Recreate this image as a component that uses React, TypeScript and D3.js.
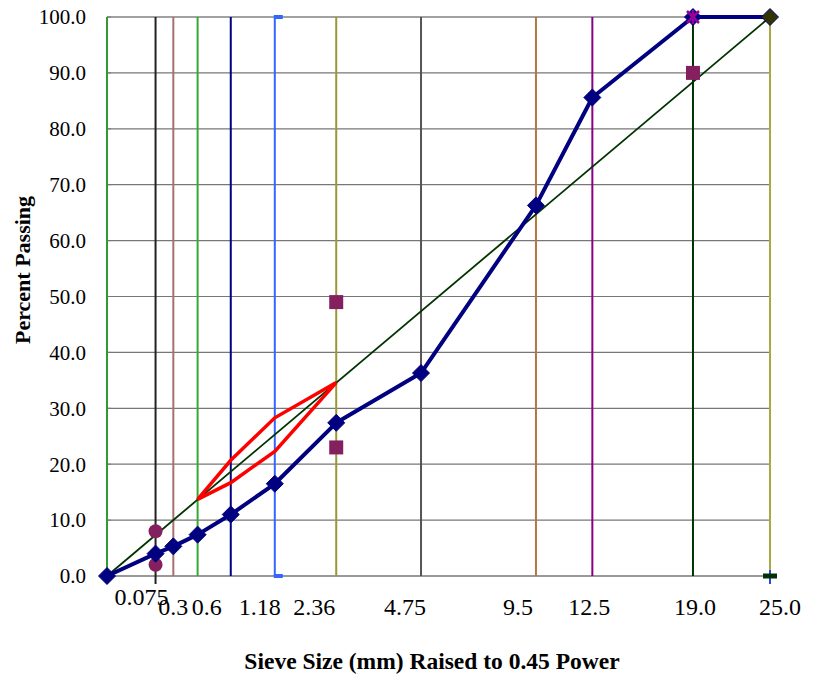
import React from "react";
import * as d3 from "d3";

const sieves = [0, 0.075, 0.15, 0.3, 0.6, 1.18, 2.36, 4.75, 9.5, 12.5, 19, 25];
const passing = [0, 4.0, 5.3, 7.4, 11.0, 16.5, 27.4, 36.3, 66.3, 85.6, 100, 100];
const sieveLineColors = ["#339933", "#222222", "#A87070", "#33AA33", "#000080", "#3366FF", "#999933", "#555555", "#B07840", "#880088", "#003300", "#AAAA44"];

const maxDensitySieves = [0, 25];
const maxDensityPassing = [0, 100];

const rzSieves = [0.3, 0.6, 1.18, 2.36];
const rzUpper = [13.7, 20.7, 28.3, 34.6];
const rzLower = [13.7, 16.7, 22.3, 34.6];

const cpSquareSieves = [2.36, 2.36, 19];
const cpSquareValues = [49, 23, 90];
const cpCircleSieves = [0.075, 0.075];
const cpCircleValues = [8, 2];

const yTicks = [0, 10, 20, 30, 40, 50, 60, 70, 80, 90, 100];
const xTickSieves = [0.075, 0.15, 0.3, 0.6, 1.18, 2.36, 4.75, 9.5, 12.5, 19, 25];
const xTickLabels = ["0.075", "0.3", "0.6", "1.18", "2.36", "4.75", "9.5", "12.5", "19.0", "25.0"];
// label anchors (sieve index in xTickSieves) and pixel nudges
const xLabelAnchor = [0, 1, 3, 4, 5, 6, 7, 8, 9, 10];
const xLabelDx = [-14, 0, -24, -15, -22, -16, -18, -3, 2, 10];
const xLabelDy = [0, 10, 10, 10, 10, 10, 10, 10, 10, 10];

const P = 0.45;
const tf = (s: number) => Math.pow(s, P);

export default function App() {
  const x = d3.scaleLinear().domain([0, tf(25)]).range([107, 770]);
  const y = d3.scaleLinear().domain([0, 100]).range([576, 17]);
  const X = (s: number) => x(tf(s));
  const line = d3.line<[number, number]>().x((d) => X(d[0])).y((d) => y(d[1]));

  const mainPts: [number, number][] = sieves.map((s, i) => [s, passing[i]]);
  const mdPts: [number, number][] = maxDensitySieves.map((s, i) => [s, maxDensityPassing[i]]);
  const rzPts: [number, number][] = [
    ...rzSieves.map((s, i) => [s, rzUpper[i]] as [number, number]),
    ...rzSieves.map((s, i) => [s, rzLower[i]] as [number, number]).reverse(),
  ];

  const diamond = (cx: number, cy: number, r: number) =>
    `M${cx},${cy - r}L${cx + r},${cy}L${cx},${cy + r}L${cx - r},${cy}Z`;

  const font = "'Liberation Serif', 'Times New Roman', serif";
  const purple = "#852060";

  return (
    <svg width={814} height={675} style={{ position: "absolute", left: 0, top: 0, background: "#fff" }} fontFamily={font}>
      {/* gridlines */}
      {yTicks.map((t) => (
        <line key={"g" + t} x1={107} x2={770} y1={y(t)} y2={y(t)} stroke={t === 100 ? "#444" : "#777"} strokeWidth={t === 0 ? 1.5 : 1.2} />
      ))}
      {/* y tick marks */}
      {yTicks.map((t) => (
        <line key={"yt" + t} x1={107} x2={111} y1={y(t)} y2={y(t)} stroke="#777" strokeWidth={1} />
      ))}
      {/* sieve vertical lines */}
      {sieves.map((s, i) => (
        <line key={"v" + i} x1={X(s)} x2={X(s)} y1={y(100)} y2={y(0) + (s === 0.075 ? 8 : 0)} stroke={sieveLineColors[i]} strokeWidth={2} />
      ))}
      {/* 1.18 caps */}
      <line x1={X(1.18) - 1} x2={X(1.18) + 8} y1={y(100)} y2={y(100)} stroke="#3366FF" strokeWidth={4} />
      <line x1={X(1.18) - 1} x2={X(1.18) + 8} y1={y(0)} y2={y(0)} stroke="#3366FF" strokeWidth={4} />
      {/* max density line */}
      <path d={line(mdPts) || ""} fill="none" stroke="#003300" strokeWidth={1.8} />
      {/* restricted zone */}
      <path d={(line(rzPts) || "") + "Z"} fill="none" stroke="#FF0000" strokeWidth={3.5} strokeLinejoin="miter" />
      {/* control points */}
      {cpSquareSieves.map((s, i) => (
        <rect key={"sq" + i} x={X(s) - 7} y={y(cpSquareValues[i]) - 7} width={14} height={14} fill={purple} />
      ))}
      {cpCircleSieves.map((s, i) => (
        <circle key={"ci" + i} cx={X(s)} cy={y(cpCircleValues[i])} r={7} fill={purple} />
      ))}
      {/* main gradation */}
      <path d={line(mainPts) || ""} fill="none" stroke="#000080" strokeWidth={4} strokeLinejoin="round" />
      {mainPts.map((d, i) => (
        <path key={"d" + i} d={diamond(X(d[0]), y(d[1]), 8.5)} fill={i === mainPts.length - 1 ? "#333300" : "#000080"} stroke="#000080" strokeWidth={1} />
      ))}
      {/* X marker at 19, 100 */}
      <g stroke="#990099" strokeWidth={2.5}>
        <line x1={X(19) - 6} x2={X(19) + 6} y1={y(100) - 6} y2={y(100) + 6} />
        <line x1={X(19) - 6} x2={X(19) + 6} y1={y(100) + 6} y2={y(100) - 6} />
        <line x1={X(19)} x2={X(19)} y1={y(100) - 7} y2={y(100) + 7} />
      </g>
      {/* markers at 25, 0 */}
      <line x1={X(25)} x2={X(25)} y1={y(0) - 6} y2={y(0) + 8} stroke="#3344DD" strokeWidth={2} />
      <rect x={X(25) - 7} y={y(0) - 2.5} width={14} height={5} fill="#003300" />

      {/* y tick labels */}
      {yTicks.map((t) => (
        <text key={"yl" + t} x={86} y={y(t)} dy="0.35em" textAnchor="end" fontSize={21} fill="#000">
          {t.toFixed(1)}
        </text>
      ))}
      {/* x tick labels */}
      {xTickLabels.map((l, i) => (
        <text key={"xl" + i} x={X(xTickSieves[xLabelAnchor[i]]) + xLabelDx[i]} y={y(0) + 21 + xLabelDy[i]} dy="0.35em" textAnchor="middle" fontSize={24} fill="#000">
          {l}
        </text>
      ))}
      {/* axis titles */}
      <text x={432} y={661} dy="0.35em" textAnchor="middle" fontSize={23.5} fontWeight="bold">
        Sieve Size (mm) Raised to 0.45 Power
      </text>
      <text transform={`translate(22,270) rotate(-90)`} dy="0.35em" textAnchor="middle" fontSize={22} fontWeight="bold">
        Percent Passing
      </text>
    </svg>
  );
}
